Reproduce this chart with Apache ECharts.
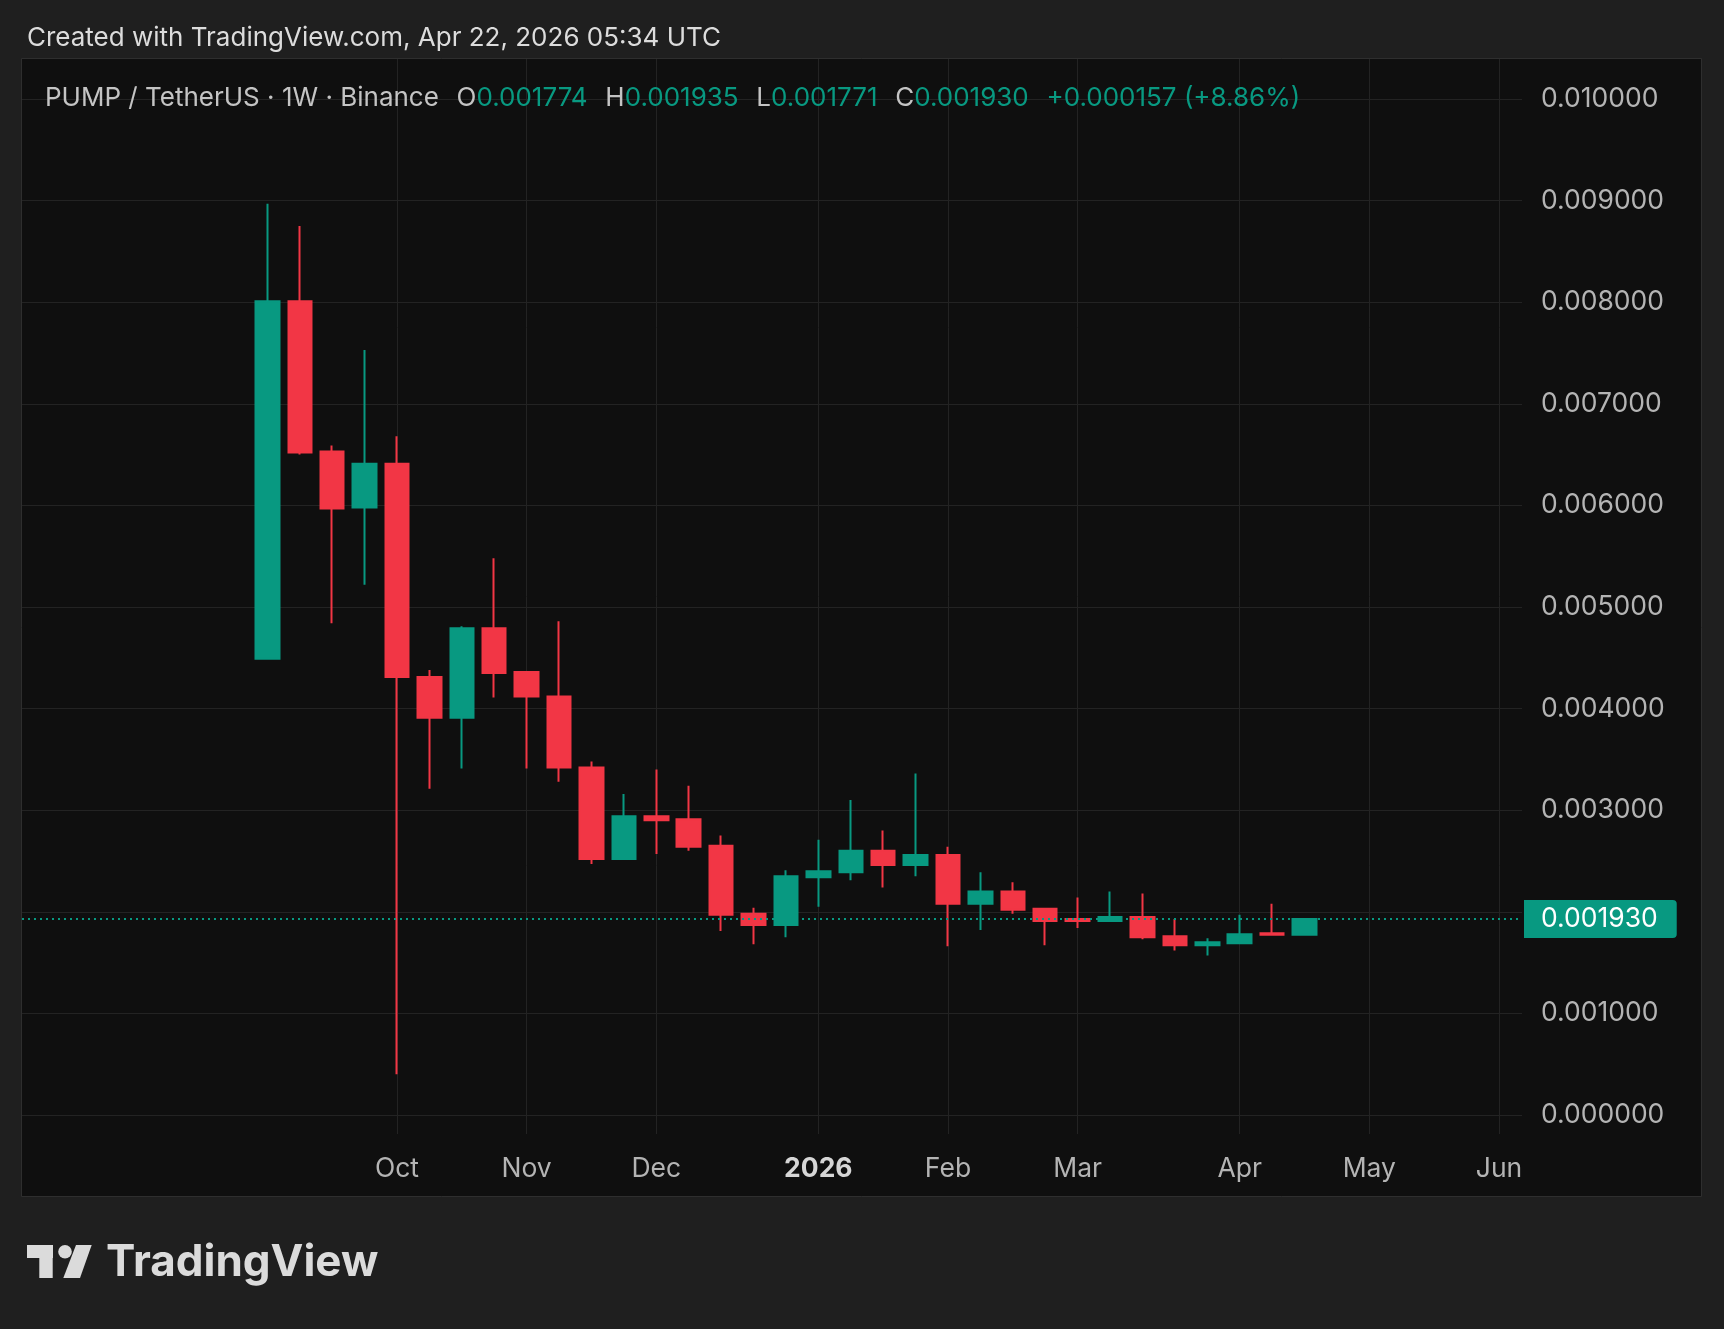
<!DOCTYPE html>
<html><head><meta charset="utf-8">
<script src="https://cdn.jsdelivr.net/npm/echarts@6/dist/echarts.min.js"></script>
<style>html,body{margin:0;padding:0;background:#1f1f1f;}#c{width:1724px;height:1329px;}</style>
</head><body><div id="c"></div>
<script>
// ---- data (weekly candles, PUMP/USDT, Binance) ----
const weeks = ['2025-09-08','2025-09-15','2025-09-22','2025-09-29','2025-10-06','2025-10-13','2025-10-20','2025-10-27',
  '2025-11-03','2025-11-10','2025-11-17','2025-11-24','2025-12-01','2025-12-08','2025-12-15','2025-12-22','2025-12-29',
  '2026-01-05','2026-01-12','2026-01-19','2026-01-26','2026-02-02','2026-02-09','2026-02-16','2026-02-23',
  '2026-03-02','2026-03-09','2026-03-16','2026-03-23','2026-03-30','2026-04-06','2026-04-13','2026-04-20'];
const openVals  = [0.00449,0.00801,0.00653,0.00598,0.00641,0.00431,0.00391,0.00479,0.00436,0.00412,0.00342,0.00252,0.00294,0.00291,0.00265,0.00198,0.00187,
  0.00234,0.00239,0.00260,0.00246,0.00256,0.00208,0.00220,0.00203,0.00193,0.00191,0.00195,0.00176,0.00167,0.00169,0.00179,0.001774];
const highVals  = [0.00897,0.00875,0.00659,0.00753,0.00668,0.00438,0.00481,0.00548,0.00437,0.00486,0.00348,0.00316,0.00340,0.00324,0.00275,0.00204,0.00241,
  0.00271,0.00310,0.00280,0.00336,0.00264,0.00239,0.00229,0.00203,0.00214,0.00220,0.00218,0.00193,0.00174,0.00197,0.00208,0.001935];
const lowVals   = [0.00449,0.00650,0.00484,0.00522,0.00040,0.00321,0.00341,0.00411,0.00341,0.00328,0.00247,0.00251,0.00257,0.00260,0.00181,0.00168,0.00175,
  0.00205,0.00231,0.00224,0.00235,0.00166,0.00182,0.00198,0.00167,0.00184,0.00191,0.00173,0.00162,0.00157,0.00168,0.00177,0.001771];
const closeVals = [0.00801,0.00652,0.00597,0.00641,0.00431,0.00391,0.00479,0.00435,0.00412,0.00342,0.00252,0.00294,0.00290,0.00264,0.00197,0.00187,0.00235,
  0.00240,0.00260,0.00246,0.00256,0.00208,0.00220,0.00202,0.00191,0.00191,0.00195,0.00175,0.00167,0.00170,0.00178,0.001773,0.001930];
const monthTickWeek   = [4, 8, 12, 17, 21, 25, 30, 34, 38];
const monthTickLabels = ['Oct','Nov','Dec','2026','Feb','Mar','Apr','May','Jun'];
const priceTickStep = 0.001;
const priceMin = 0, priceMax = 0.010;

// ---- styling / layout ----
const UP = '#089981', DOWN = '#F23645';
const GRID = '#232323';
const FONT = 'Inter';
const xMin = -7.57, xMax = 38.71;
const plotL = 22, plotR = 1522;
const pxPerWeek = (plotR - plotL) / (xMax - xMin);
const catFirst = -7, catLast = 38;
const cat = [];
for (let i = catFirst; i <= catLast; i++) cat.push(String(i));
const g0Left = plotL + (catFirst - xMin) * pxPerWeek;
const g0Right = 1724 - (plotL + (catLast - xMin) * pxPerWeek);

const candles = weeks.map((w, i) => [i, openVals[i], closeVals[i], lowVals[i], highVals[i]]);
const n = closeVals.length;
const lastO = openVals[n-1], lastH = highVals[n-1], lastL = lowVals[n-1], lastC = closeVals[n-1];
const chg = lastC - closeVals[n-2];
const chgPct = chg / closeVals[n-2] * 100;
const isMonth = (idx, val) => monthTickWeek.indexOf(+val) >= 0;
const sp = '\u2002\u2009';

const chart = echarts.init(document.getElementById('c'), null, {renderer: 'canvas'});
chart.setOption({
  backgroundColor: '#1f1f1f',
  animation: false,
  textStyle: {fontFamily: FONT},
  title: [
    {text: 'Created with TradingView.com, Apr 22, 2026 05:34 UTC', left: 22, top: 19,
     textStyle: {color: '#dcdcdc', fontSize: 26, fontWeight: 'normal', fontFamily: FONT, lineHeight: 28}},
    {text: '{g|PUMP / TetherUS · 1W · Binance' + sp + 'O}{v|' + lastO.toFixed(6) + '}{g|' + sp + 'H}{v|' + lastH.toFixed(6) +
       '}{g|' + sp + 'L}{v|' + lastL.toFixed(6) + '}{g|' + sp + 'C}{v|' + lastC.toFixed(6) + '}{v|' + sp + (chg >= 0 ? '+' : '') + chg.toFixed(6) +
       ' (' + (chg >= 0 ? '+' : '') + chgPct.toFixed(2) + '%)}',
     left: 40, top: 79,
     textStyle: {fontWeight: 'normal', rich: {
       g: {color: '#c4c4c4', fontSize: 26, fontWeight: 'normal', fontFamily: FONT, lineHeight: 28},
       v: {color: UP, fontSize: 26, fontWeight: 'normal', fontFamily: FONT, lineHeight: 28}
     }}}
  ],
  graphic: [
    {type: 'rect', z: -10, shape: {x: 21.5, y: 58.5, width: 1680, height: 1138},
     style: {fill: '#0f0f0f', stroke: '#2e2e2e', lineWidth: 1}},
    {type: 'rect', shape: {x: 27, y: 1245, width: 26, height: 13}, style: {fill: '#dbdbdb'}},
    {type: 'rect', shape: {x: 39.3, y: 1245, width: 13.4, height: 33}, style: {fill: '#dbdbdb'}},
    {type: 'circle', shape: {cx: 65, cy: 1251.7, r: 6.8}, style: {fill: '#dbdbdb'}},
    {type: 'polygon', shape: {points: [[76,1245],[91.7,1245],[80,1278],[63.3,1278]]}, style: {fill: '#dbdbdb'}},
    {type: 'text', x: 106, y: 1263, style: {text: 'TradingView', fill: '#dbdbdb', font: 'bold 44px Inter', verticalAlign: 'middle'}}
  ],
  grid: [
    {left: g0Left, right: g0Right, top: 59, bottom: 1329 - 1134, containLabel: false},
    {left: plotL, right: 1724 - plotR, top: 99, bottom: 1329 - 1115, containLabel: false}
  ],
  xAxis: [
    {gridIndex: 0, type: 'category', data: cat, boundaryGap: false,
     axisLine: {show: false}, axisTick: {show: false},
     axisLabel: {interval: isMonth, margin: 21, fontSize: 26.5, color: '#b4b4b4', fontFamily: FONT, lineHeight: 28,
       formatter: (v) => { const k = monthTickWeek.indexOf(+v); if (k < 0) return ''; const t = monthTickLabels[k];
         return /^\d{4}$/.test(t) ? '{y|' + t + '}' : t; },
       rich: {y: {fontSize: 26.5, fontWeight: 'bold', color: '#d6d6d6', fontFamily: FONT, lineHeight: 28}}},
     splitLine: {show: true, interval: isMonth, lineStyle: {color: GRID, width: 1}}},
    {gridIndex: 1, type: 'value', min: xMin, max: xMax, show: false, splitLine: {show: false}}
  ],
  yAxis: [
    {gridIndex: 0, type: 'value', min: 0, max: 1, show: false, splitLine: {show: false}},
    {gridIndex: 1, type: 'value', position: 'right', min: priceMin, max: priceMax, interval: priceTickStep,
     axisLine: {show: false}, axisTick: {show: false},
     axisLabel: {margin: 19, fontSize: 26.5, color: '#b4b4b4', fontFamily: FONT, formatter: (v) => v.toFixed(6)},
     splitLine: {show: true, lineStyle: {color: GRID, width: 1}}}
  ],
  series: [{
    type: 'candlestick', xAxisIndex: 1, yAxisIndex: 1,
    data: candles, encode: {x: 0, y: [1, 2, 3, 4]},
    barWidth: 24,
    itemStyle: {color: UP, color0: DOWN, borderColor: UP, borderColor0: DOWN, borderColorDoji: UP, borderWidth: 2},
    markLine: {
      silent: true, symbol: ['none', 'none'], z: 5, animation: false,
      lineStyle: {color: UP, type: [2, 4], width: 2},
      label: {show: true, position: 'end', distance: 2, formatter: () => lastC.toFixed(6),
        color: '#ffffff', fontSize: 26.5, fontFamily: FONT, backgroundColor: UP,
        padding: [5, 19, 5, 17], borderRadius: [0, 4, 4, 0], lineHeight: 28},
      data: [[{coord: [xMin, lastC]}, {coord: [xMax, lastC]}]]
    }
  }]
});
</script></body></html>
